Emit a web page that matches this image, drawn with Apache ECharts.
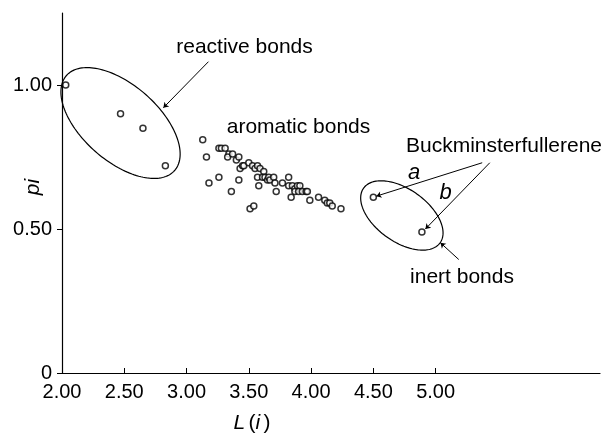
<!DOCTYPE html>
<html><head><meta charset="utf-8">
<script src="https://cdn.jsdelivr.net/npm/echarts@6/dist/echarts.min.js"></script>
<style>html,body{margin:0;padding:0;background:#fff}#c{width:607px;height:434px}</style>
</head><body><div id="c"></div>
<script>
// ---- data ----
const xTicks = [2.0, 2.5, 3.0, 3.5, 4.0, 4.5, 5.0];
const yTicks = [0, 0.5, 1.0];

const reactiveL  = [2.03, 2.47, 2.65, 2.83];
const reactivePi = [1.00, 0.90, 0.85, 0.72];

const aromaticL = [3.13, 3.16, 3.26, 3.28, 3.31, 3.34, 3.33, 3.37, 3.40, 3.42,
                   3.43, 3.45, 3.46, 3.50, 3.53, 3.55, 3.57, 3.59, 3.62, 3.57,
                   3.61, 3.63, 3.65, 3.66, 3.67, 3.70, 3.71, 3.26, 3.18, 3.42,
                   3.36, 3.58, 3.51, 3.54, 3.72, 3.77, 3.82, 3.82, 3.85, 3.87,
                   3.87, 3.89, 3.91, 3.90, 3.93, 3.84, 3.96, 3.97, 3.99, 4.06,
                   4.11, 4.13, 4.15, 4.17, 4.24];
const aromaticPi = [0.81, 0.75, 0.78, 0.78, 0.78, 0.76, 0.75, 0.76, 0.74, 0.75,
                    0.71, 0.72, 0.72, 0.73, 0.72, 0.71, 0.72, 0.71, 0.70, 0.68,
                    0.68, 0.68, 0.67, 0.68, 0.67, 0.68, 0.66, 0.68, 0.66, 0.67,
                    0.63, 0.65, 0.57, 0.58, 0.63, 0.66, 0.68, 0.65, 0.65, 0.64,
                    0.63, 0.65, 0.65, 0.63, 0.63, 0.61, 0.63, 0.63, 0.60, 0.61,
                    0.60, 0.59, 0.59, 0.58, 0.57];

const buckyNames = ['a', 'b'];
const buckyL  = [4.50, 4.89];
const buckyPi = [0.61, 0.49];

// annotation ellipses (reactive, inert): centre, major and minor semi-axis vectors, in data units
const ellipseCenter = [[2.470, 0.868], [4.729, 0.547]];
const ellipseMajor  = [[0.434, -0.165], [0.307, -0.095]];
const ellipseMinor  = [[-0.202, -0.099], [-0.123, -0.074]];

// pointer lines (data units)
const pointerFrom = [[3.176, 1.081], [5.374, 0.730], [5.435, 0.730], [5.186, 0.394]];
const pointerTo   = [[2.814, 0.921], [4.524, 0.614], [4.918, 0.500], [5.039, 0.452]];

// ---- chart ----
const FONT = 'Liberation Sans, Arial, Helvetica, sans-serif';
const zip = (a, b) => a.map((v, i) => [v, b[i]]);
const chart = echarts.init(document.getElementById('c'), null, {renderer: 'canvas'});

const pointStyle = {color: '#fff', borderColor: '#000', borderWidth: 1.5};

chart.setOption({
  animation: false,
  backgroundColor: '#fff',
  grid: {left: 62, right: 7, top: 13, bottom: 61, containLabel: false, outerBoundsMode: 'none'},
  xAxis: {
    type: 'value', min: 2, max: 6.32, interval: 0.5,
    splitLine: {show: false},
    axisLine: {lineStyle: {color: '#000', width: 1.2}},
    axisTick: {inside: true, length: 5, lineStyle: {color: '#000'}, customValues: xTicks},
    axisLabel: {customValues: xTicks, formatter: v => v.toFixed(2), color: '#000',
                fontFamily: FONT, fontSize: 20, margin: 9}
  },
  yAxis: {
    type: 'value', min: 0, max: 1.25, interval: 0.5,
    splitLine: {show: false},
    axisLine: {lineStyle: {color: '#000', width: 1.2}},
    axisTick: {inside: false, length: 5, lineStyle: {color: '#000'}, customValues: yTicks},
    axisLabel: {customValues: yTicks, formatter: v => v === 0 ? '0' : v.toFixed(2), color: '#000',
                fontFamily: FONT, fontSize: 20, margin: 10}
  },
  series: [
    {
      type: 'custom', name: 'groups', silent: true, z: 1,
      data: ellipseCenter.map((c, i) => [c[0], c[1], i]),
      renderItem: function (params, api) {
        const i = api.value(2);
        const c = ellipseCenter[i], u = ellipseMajor[i], w = ellipseMinor[i];
        const pts = [];
        for (let k = 0; k <= 160; k++) {
          const t = k / 160 * Math.PI * 2;
          pts.push(api.coord([c[0] + Math.cos(t) * u[0] + Math.sin(t) * w[0],
                              c[1] + Math.cos(t) * u[1] + Math.sin(t) * w[1]]));
        }
        return {type: 'polygon', shape: {points: pts},
                style: {fill: 'none', stroke: '#000', lineWidth: 1.2}};
      }
    },
    {
      type: 'lines', coordinateSystem: 'cartesian2d', silent: true, z: 2,
      symbol: ['none', 'arrow'], symbolSize: 5,
      lineStyle: {color: '#000', width: 1, opacity: 1},
      data: pointerFrom.map((f, i) => ({coords: [f, pointerTo[i]]}))
    },
    {type: 'scatter', name: 'reactive bonds', symbol: 'circle', symbolSize: 6, clip: false, z: 3,
     itemStyle: pointStyle, data: zip(reactiveL, reactivePi)},
    {type: 'scatter', name: 'aromatic bonds', symbol: 'circle', symbolSize: 6, clip: false, z: 3,
     itemStyle: pointStyle, data: zip(aromaticL, aromaticPi)},
    {type: 'scatter', name: 'Buckminsterfullerene', symbol: 'circle', symbolSize: 6, clip: false, z: 3,
     itemStyle: pointStyle, data: zip(buckyL, buckyPi)}
  ],
  graphic: [
    {type: 'text', x: 244.5, y: 47.5, style: {text: 'reactive bonds', font: '21px ' + FONT, fill: '#000', align: 'center', verticalAlign: 'middle'}},
    {type: 'text', x: 298.5, y: 127.5, style: {text: 'aromatic bonds', font: '21px ' + FONT, fill: '#000', align: 'center', verticalAlign: 'middle'}},
    {type: 'text', x: 504, y: 146, style: {text: 'Buckminsterfullerene', font: '21px ' + FONT, fill: '#000', align: 'center', verticalAlign: 'middle'}},
    {type: 'text', x: 462, y: 277.5, style: {text: 'inert bonds', font: '21px ' + FONT, fill: '#000', align: 'center', verticalAlign: 'middle'}},
    {type: 'text', x: 414, y: 172.5, style: {text: buckyNames[0], font: 'italic 22px ' + FONT, fill: '#000', align: 'center', verticalAlign: 'middle'}},
    {type: 'text', x: 445.5, y: 192.5, style: {text: buckyNames[1], font: 'italic 22px ' + FONT, fill: '#000', align: 'center', verticalAlign: 'middle'}},
    {type: 'text', x: 33, y: 187, rotation: Math.PI / 2,
     style: {text: 'pi', font: 'italic 21px ' + FONT, fill: '#000', align: 'center', verticalAlign: 'middle'}},
    {type: 'text', x: 252, y: 423,
     style: {text: '{i|L} {n|(}{i|i} {n|)}', align: 'center', verticalAlign: 'middle', fill: '#000',
             rich: {i: {font: 'italic 21px ' + FONT, fill: '#000'}, n: {font: '21px ' + FONT, fill: '#000'}}}}
  ]
});
</script></body></html>
